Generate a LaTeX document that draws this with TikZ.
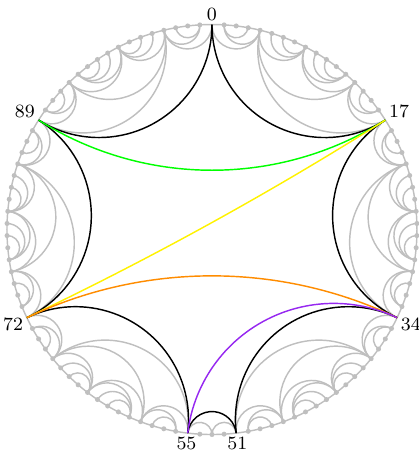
\documentclass[tikz,border=0pt]{standalone}
\usepackage{tikz}
\usetikzlibrary{calc}

\definecolor{geoviolet}{RGB}{150,40,240}
\definecolor{geoorange}{RGB}{255,140,0}

\def\R{3}
% hyperbolic geodesic between boundary points i and j of the 106-gon
\newcommand{\geo}[3][tess]{%
  \pgfmathtruncatemacro{\gi}{mod(#2+212,106)}%
  \pgfmathtruncatemacro{\gj}{mod(#3+212,106)}%
  \pgfmathtruncatemacro{\gd}{mod(\gj-\gi+212,106)}%
  \ifnum\gd>53
    \pgfmathtruncatemacro{\gd}{106-\gd}%
    \let\gk\gi \let\gi\gj \let\gj\gk
  \fi
  \pgfmathsetmacro{\gt}{\gd*1.698113}%
  \pgfmathsetmacro{\gm}{90-\gi*3.396226-\gt}%
  \pgfmathsetmacro{\gb}{\gm-\gt}%
  \pgfmathsetmacro{\gr}{\R*tan(\gt)}%
  \draw[#1] (\gb:\R) arc[start angle=\gm-90-\gt, end angle=\gm-270+\gt, radius=\gr];
}

\begin{document}
\begin{tikzpicture}[
    tess/.style={gray!50, line width=0.6pt},
    rim/.style={gray!50, line width=0.6pt},
    dot/.style={circle, fill=gray!50, inner sep=0pt, minimum size=2.1pt},
    edge/.style={black, line width=0.6pt},
    lbl/.style={inner sep=1.4pt, font=\fontsize{7.8}{9}\selectfont}
]
\useasboundingbox (-3.102,-3.285) rectangle (3.029,3.359);

\foreach \k in {0,...,105}{
  \coordinate (p\k) at ({90-\k*3.396226}:\R);
}

% triangulation of the outer regions
\foreach \a/\b in {0/4,4/17,4/13,13/17,1/4,1/3,4/8,5/8,6/8,8/13,8/12,9/12,10/12,13/16,14/16}{
  \foreach \s in {0,17,34}{
    \geo{\s+\a}{\s+\b}
    \geo{106-\s-\a}{106-\s-\b}
  }
}
\geo{51}{53}
\geo{53}{55}

% boundary circle and points
\draw[rim] (0,0) circle (\R);
\foreach \k in {0,...,105}{
  \pgfmathtruncatemacro{\vtx}{(\k==0)||(\k==17)||(\k==34)||(\k==51)||(\k==55)||(\k==72)||(\k==89)}
  \ifnum\vtx=0 \node[dot] (d\k) at (p\k) {}; \fi
}

% heptagon
\geo[edge]{0}{17}
\geo[edge]{17}{34}
\geo[edge]{34}{51}
\geo[edge]{51}{55}
\geo[edge]{55}{72}
\geo[edge]{72}{89}
\geo[edge]{89}{0}

% diagonals
\geo[green, line width=0.6pt]{89}{17}
\geo[yellow, line width=0.6pt]{17}{72}
\geo[geoorange, line width=0.6pt]{72}{34}
\geo[geoviolet, line width=0.6pt]{34}{55}

% labels
\foreach \k in {0,17,34,51,55,72,89}{
  \pgfmathsetmacro{\la}{270-\k*3.396226}
  \node[lbl, anchor=\la] (l\k) at (p\k) {\k};
}

\end{tikzpicture}
\end{document}
